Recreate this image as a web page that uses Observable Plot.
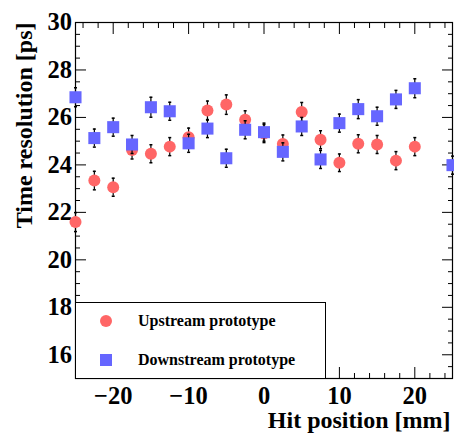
<!DOCTYPE html>
<html><head><meta charset="utf-8">
<script src="https://cdn.jsdelivr.net/npm/d3@7"></script>
<script src="https://cdn.jsdelivr.net/npm/@observablehq/plot@0.6"></script>
<style>
body{margin:0;background:#fff;}
#wrap{position:relative;width:454px;height:434px;overflow:hidden;background:#fff;}
#legend{position:absolute;left:75px;top:302px;width:251px;height:77px;box-sizing:border-box;border:1px solid #000;background:#fff;font-family:"Liberation Serif",serif;font-weight:bold;font-size:16px;color:#000;}
.mk{position:absolute;width:12px;height:12px;}
.lt{position:absolute;left:62px;line-height:20px;white-space:nowrap;}
</style></head><body><div id="wrap"></div>
<script>
// Hit positions [mm]
const upX = [-25, -22.5, -20, -17.5, -15, -12.5, -10, -7.5, -5, -2.5, 0, 2.5, 5, 7.5, 10, 12.5, 15, 17.5, 20];
const upY = [21.59, 23.34, 23.06, 24.63, 24.47, 24.77, 25.17, 26.29, 26.54, 25.90, 25.32, 24.88, 26.23, 25.06, 24.09, 24.89, 24.86, 24.18, 24.77];
const upErr = [0.40, 0.39, 0.38, 0.38, 0.38, 0.38, 0.38, 0.40, 0.41, 0.38, 0.38, 0.38, 0.40, 0.38, 0.37, 0.38, 0.38, 0.38, 0.38];
const downX = [-25, -22.5, -20, -17.5, -15, -12.5, -10, -7.5, -5, -2.5, 0, 2.5, 5, 7.5, 10, 12.5, 15, 17.5, 20, 25];
const downY = [26.85, 25.13, 25.59, 24.86, 26.43, 26.26, 24.91, 25.53, 24.28, 25.48, 25.38, 24.55, 25.62, 24.23, 25.76, 26.35, 26.05, 26.76, 27.23, 23.99];
const downErr = [0.40, 0.38, 0.38, 0.38, 0.42, 0.38, 0.38, 0.38, 0.38, 0.38, 0.38, 0.38, 0.38, 0.38, 0.38, 0.40, 0.38, 0.38, 0.40, 0.38];
const seriesNames = ["Upstream prototype", "Downstream prototype"];
const seriesColors = ["#ff6666", "#6666ff"];
const xMajor = [-20, -10, 0, 10, 20];
const yMajor = [16, 18, 20, 22, 24, 26, 28, 30];
const xTitle = "Hit position [mm]";
const yTitle = "Time resolution [ps]";

const up = upX.map((x, i) => ({x, y: upY[i], e: upErr[i]}));
const down = downX.map((x, i) => ({x, y: downY[i], e: downErr[i]}));
const xMinor = d3.range(-24, 25, 2).filter(v => v % 10 !== 0);
const yMinor = d3.range(15.5, 30, 0.5).filter(v => v % 2 !== 0);
const fmt = d => d < 0 ? "\u2212" + (-d) : String(d);
const none = () => "";
const cap = {draw(ctx) { ctx.moveTo(-1.5, 0); ctx.lineTo(1.5, 0); }};

function errMarks(data) {
  return [
    Plot.ruleX(data, {x: "x", y1: d => d.y - d.e, y2: d => d.y + d.e, stroke: "black", strokeWidth: 1.2}),
    Plot.dot(data, {x: "x", y: d => d.y + d.e, symbol: cap, r: 2, stroke: "black", fill: "none", strokeWidth: 1.5}),
    Plot.dot(data, {x: "x", y: d => d.y - d.e, symbol: cap, r: 2, stroke: "black", fill: "none", strokeWidth: 1.5})
  ];
}

const chart = Plot.plot({
  width: 454, height: 434,
  marginLeft: 75, marginRight: 2, marginTop: 22, marginBottom: 56,
  x: {domain: [-25, 25]},
  y: {domain: [15, 30]},
  style: {fontFamily: "Liberation Serif", fontWeight: "bold", fontSize: "24.5px", background: "white", color: "black", overflow: "visible"},
  marks: [
    Plot.axisX(xMajor, {anchor: "bottom", tickSize: -11, tickPadding: 19, tickFormat: fmt, label: null}),
    Plot.axisX(xMinor, {anchor: "bottom", tickSize: -5, tickFormat: none, label: null}),
    Plot.axisX(xMajor, {anchor: "top", tickSize: -11, tickFormat: none, label: null}),
    Plot.axisX(xMinor, {anchor: "top", tickSize: -5, tickFormat: none, label: null}),
    Plot.axisY(yMajor, {anchor: "left", tickSize: -11, tickPadding: 14.5, tickFormat: fmt, label: null}),
    Plot.axisY(yMinor, {anchor: "left", tickSize: -5, tickFormat: none, label: null}),
    Plot.axisY(yMajor, {anchor: "right", tickSize: -11, tickFormat: none, label: null}),
    Plot.axisY(yMinor, {anchor: "right", tickSize: -5, tickFormat: none, label: null}),
    Plot.frame({stroke: "black", strokeWidth: 1.2}),
    ...errMarks(up),
    Plot.dot(up, {x: "x", y: "y", r: 6, fill: seriesColors[0], symbol: "circle"}),
    ...errMarks(down),
    Plot.dot(down, {x: "x", y: "y", r: 6.8, fill: seriesColors[1], symbol: "square"}),
    Plot.text([yTitle], {frameAnchor: "top-left", rotate: -90, textAnchor: "end", lineAnchor: "middle", dx: -51, dy: 0, fontSize: 24}),
    Plot.text([xTitle], {frameAnchor: "bottom-right", textAnchor: "end", lineAnchor: "middle", dx: -2, dy: 42, fontSize: 24})
  ]
});
const wrap = document.getElementById("wrap");
wrap.appendChild(chart);

// legend
const lg = document.createElement("div");
lg.id = "legend";
const rows = [{top: 8, shape: "circle"}, {top: 47, shape: "square"}];
rows.forEach((r, i) => {
  const m = document.createElement("div");
  m.className = "mk";
  m.style.left = "24px";
  m.style.top = (r.top + 4) + "px";
  m.style.background = seriesColors[i];
  if (r.shape === "circle") m.style.borderRadius = "50%";
  lg.appendChild(m);
  const t = document.createElement("div");
  t.className = "lt";
  t.style.top = r.top + "px";
  t.textContent = seriesNames[i];
  lg.appendChild(t);
});
wrap.appendChild(lg);
</script>
</body></html>
